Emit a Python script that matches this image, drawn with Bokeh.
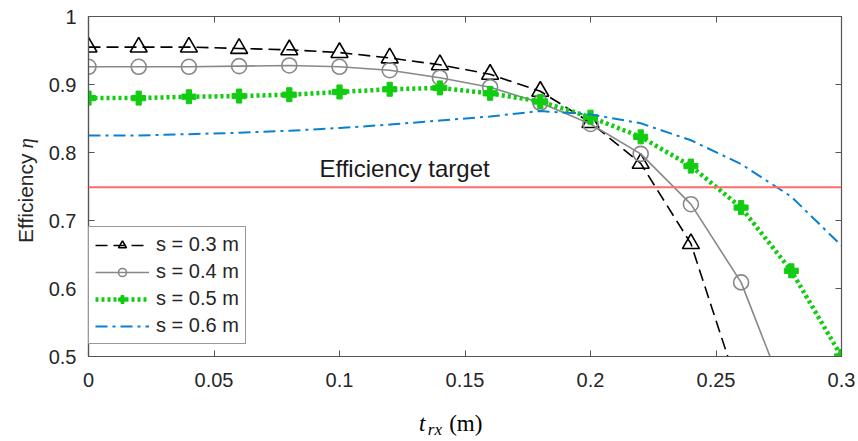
import math
from bokeh.plotting import figure
from bokeh.layouts import row, column
from bokeh.models import (FixedTicker, LinearAxis, Range1d, Legend, LegendItem,
                          Label, Span)
from bokeh.embed import file_html
from bokeh.resources import INLINE

# ---- data ----
x_all = [0.00, 0.02, 0.04, 0.06, 0.08, 0.10, 0.12, 0.14, 0.16, 0.18,
         0.20, 0.22, 0.24, 0.26, 0.28, 0.30]
eff_s03 = [0.955, 0.955, 0.955, 0.953, 0.951, 0.947, 0.939, 0.929, 0.915, 0.890,
           0.844, 0.784, 0.666, 0.440]
eff_s04 = [0.926, 0.926, 0.926, 0.927, 0.928, 0.926, 0.921, 0.910, 0.896, 0.873,
           0.842, 0.798, 0.724, 0.609, 0.420]
eff_s05 = [0.880, 0.880, 0.882, 0.883, 0.885, 0.889, 0.893, 0.895, 0.887, 0.875,
           0.852, 0.823, 0.780, 0.719, 0.626, 0.500]
eff_s06 = [0.825, 0.825, 0.827, 0.829, 0.832, 0.836, 0.841, 0.847, 0.853, 0.861,
           0.856, 0.843, 0.818, 0.783, 0.735, 0.663]
target_eff = 0.749
target_text = "Efficiency target"
series_names = ["s = 0.3 m", "s = 0.4 m", "s = 0.5 m", "s = 0.6 m"]
x_ticks = [0, 0.05, 0.1, 0.15, 0.2, 0.25, 0.3]
x_tick_labels = ["0", "0.05", "0.1", "0.15", "0.2", "0.25", "0.3"]
y_ticks = [0.5, 0.6, 0.7, 0.8, 0.9, 1.0]
y_tick_labels = ["0.5", "0.6", "0.7", "0.8", "0.9", "1"]

SANS = "Liberation Sans"
SERIF = "Liberation Serif"
TXT = "#262626"
AX = "#555555"

XR = Range1d(0, 0.3)
YR = Range1d(0.5, 1.0)

p = figure(width=813, height=401, output_backend="svg", toolbar_location=None,
           x_range=XR, y_range=YR,
           min_border_left=40, min_border_right=17, min_border_top=16,
           min_border_bottom=45)
p.background_fill_color = "white"
p.border_fill_color = "white"
p.grid.visible = False
p.outline_line_color = AX
p.outline_line_width = 1.2

for ax in (p.xaxis[0], p.yaxis[0]):
    ax.major_label_text_font = SANS
    ax.major_label_text_font_size = "20px"
    ax.major_label_text_color = TXT
    ax.axis_line_color = AX
    ax.axis_line_width = 1.2
    ax.major_tick_line_color = AX
    ax.major_tick_in = 6
    ax.major_tick_out = 0
    ax.minor_tick_line_color = None

p.xaxis.ticker = FixedTicker(ticks=x_ticks)
p.yaxis.ticker = FixedTicker(ticks=y_ticks)
p.xaxis.major_label_overrides = dict(zip(x_ticks, x_tick_labels))
p.yaxis.major_label_overrides = dict(zip(y_ticks, y_tick_labels))
p.xaxis.major_label_standoff = 16
p.yaxis.major_label_standoff = 12

# mirror ticks on top and right
for loc, tk in (("above", x_ticks), ("right", y_ticks)):
    a = LinearAxis(ticker=FixedTicker(ticks=tk))
    a.major_label_overrides = {t: "" for t in tk}
    a.major_label_text_font_size = "1px"
    a.major_label_standoff = 0
    a.axis_line_color = AX
    a.major_tick_line_color = AX
    a.major_tick_in = 6
    a.major_tick_out = 0
    a.minor_tick_line_color = None
    p.add_layout(a, loc)

# target line
p.add_layout(Span(location=target_eff, dimension="width", line_color="#ff6b6b",
                  line_width=2))
p.add_layout(Label(x=0.092, y=0.776, text=target_text, text_font=SANS,
                   text_font_size="24px", text_color="#1a1a1a",
                   text_baseline="middle", text_align="left"))

# series
n3, n4 = len(eff_s03), len(eff_s04)
l3 = p.line(x_all[:n3], eff_s03, line_color="black", line_width=1.6,
            line_dash="12 6")
m3 = p.scatter(x_all[:n3], eff_s03, marker="triangle", size=17,
               line_color="black", line_width=1.6, fill_color=None)
l4 = p.line(x_all[:n4], eff_s04, line_color="#888888", line_width=1.6)
m4 = p.scatter(x_all[:n4], eff_s04, marker="circle", size=15,
               line_color="#888888", line_width=1.6, fill_color=None)
l5 = p.line(x_all, eff_s05, line_color="#11cc11", line_width=4.5,
            line_dash="3 3")
m5 = p.scatter(x_all, eff_s05, marker="plus", size=14,
               line_color="#11cc11", fill_color="#11cc11")
l6 = p.line(x_all, eff_s06, line_color="#0a80d0", line_width=2,
            line_dash="12 5 3 5")

legend = Legend(items=[
    LegendItem(label=series_names[0], renderers=[l3, m3]),
    LegendItem(label=series_names[1], renderers=[l4, m4]),
    LegendItem(label=series_names[2], renderers=[l5, m5]),
    LegendItem(label=series_names[3], renderers=[l6]),
], location=(0, 12), margin=0, padding=6, spacing=4, glyph_width=54,
    glyph_height=20, label_height=20, label_standoff=7,
    label_text_font=SANS, label_text_font_size="20px", label_text_color=TXT,
    border_line_color="#333333", border_line_width=1.2,
    background_fill_color="white", background_fill_alpha=1.0)
p.add_layout(legend, "center")


def strip(width, height, x_range, y_range, **borders):
    f = figure(width=width, height=height, output_backend="svg",
               toolbar_location=None, x_range=x_range, y_range=y_range,
               x_axis_location=None, y_axis_location=None, **borders)
    f.grid.visible = False
    f.outline_line_color = None
    f.background_fill_color = "white"
    f.border_fill_color = "white"
    return f


# bottom strip: x-axis label  t_rx (m)
xs = strip(813, 40, XR, Range1d(0, 1), min_border_left=40, min_border_right=17,
           min_border_top=0, min_border_bottom=0)
xs.add_layout(Label(x=0.1317, y=0.45, text="t", text_font=SERIF,
                    text_font_style="italic", text_font_size="23px",
                    text_color="black", text_baseline="middle"))
xs.add_layout(Label(x=0.1352, y=0.31, text="rx", text_font=SERIF,
                    text_font_style="italic", text_font_size="17px",
                    text_color="black", text_baseline="middle"))
xs.add_layout(Label(x=0.1437, y=0.45, text="(m)", text_font=SERIF,
                    text_font_size="23px", text_color="black",
                    text_baseline="middle"))

# left strip: y-axis label  Efficiency η
ys = strip(45, 441, Range1d(0, 1), YR, min_border_left=0, min_border_right=0,
           min_border_top=16, min_border_bottom=85)
ys.add_layout(Label(x=0.56, y=0.667, text="Efficiency", angle=math.pi / 2,
                    text_font=SANS, text_font_size="21px", text_color=TXT,
                    text_baseline="middle", text_align="left"))
ys.add_layout(Label(x=0.56, y=0.806, text="η", angle=math.pi / 2,
                    text_font=SERIF, text_font_style="italic",
                    text_font_size="21px", text_color=TXT,
                    text_baseline="middle", text_align="left"))

layout = row(ys, column(p, xs, spacing=0), spacing=0)

open("out.html", "w").write(file_html(layout, INLINE))
